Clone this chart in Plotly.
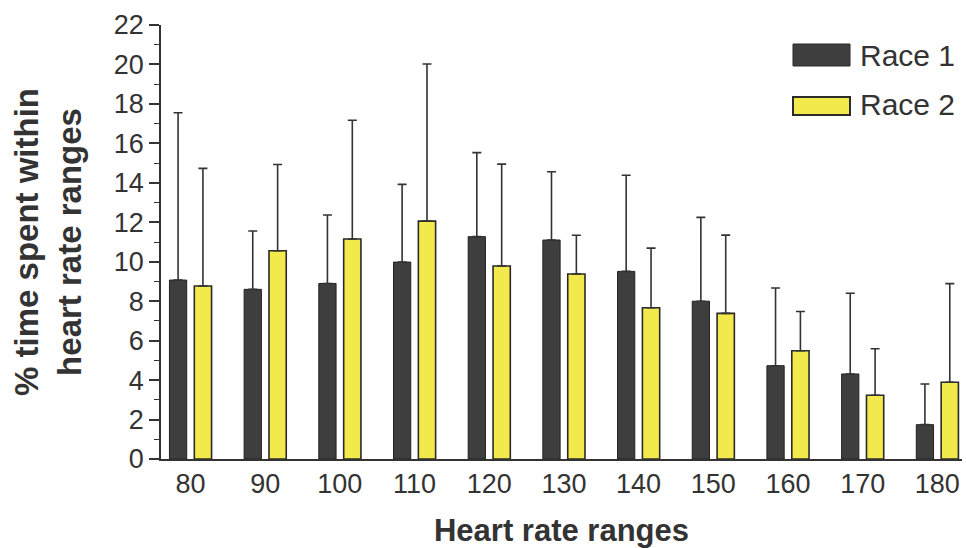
import plotly.graph_objects as go

categories = ["80", "90", "100", "110", "120", "130", "140", "150", "160", "170", "180"]
race1_mean = [9.07, 8.60, 8.90, 9.98, 11.27, 11.10, 9.51, 8.00, 4.73, 4.31, 1.74]
race1_sd_top = [17.55, 11.56, 12.37, 13.92, 15.53, 14.56, 14.38, 12.25, 8.67, 8.40, 3.80]
race2_mean = [8.77, 10.56, 11.15, 12.06, 9.78, 9.38, 7.67, 7.38, 5.49, 3.23, 3.89]
race2_sd_top = [14.73, 14.93, 17.17, 20.02, 14.95, 11.34, 10.69, 11.35, 7.48, 5.59, 8.89]
y_ticks = [0, 2, 4, 6, 8, 10, 12, 14, 16, 18, 20, 22]
series_names = ["Race 1", "Race 2"]

race1_err = [t - m for t, m in zip(race1_sd_top, race1_mean)]
race2_err = [t - m for t, m in zip(race2_sd_top, race2_mean)]

TXT = "#333333"
FONT = "Liberation Sans, Arial, sans-serif"

fig = go.Figure()
fig.add_trace(go.Bar(
    x=categories, y=race1_mean, name=series_names[0],
    marker=dict(color="#3e3e3e", line=dict(color="#222222", width=1)),
    error_y=dict(type="data", array=race1_err, arrayminus=[0] * len(race1_err),
                 symmetric=False, color="#333333", thickness=1.6, width=4.5),
    showlegend=False,
))
fig.add_trace(go.Bar(
    x=categories, y=race2_mean, name=series_names[1],
    marker=dict(color="#f2e94c", line=dict(color="#2a2a2a", width=1.6)),
    error_y=dict(type="data", array=race2_err, arrayminus=[0] * len(race2_err),
                 symmetric=False, color="#333333", thickness=1.6, width=4.5),
    showlegend=False,
))

# custom legend (paper coords)
L, R, T, B = 161, 962, 25, 459
def px(x):
    return (x - L) / (R - L)
def py(y):
    return (B - y) / (B - T)

shapes = [
    dict(type="rect", xref="paper", yref="paper", x0=px(793), x1=px(850), y0=py(66), y1=py(44),
         fillcolor="#3e3e3e", line=dict(color="#2a2a2a", width=1)),
    dict(type="rect", xref="paper", yref="paper", x0=px(793), x1=px(850), y0=py(115), y1=py(97),
         fillcolor="#f2e94c", line=dict(color="#2a2a2a", width=2)),
]
annotations = [
    dict(xref="paper", yref="paper", x=px(858), y=py(55), text=series_names[0], showarrow=False,
         xanchor="left", yanchor="middle", font=dict(family=FONT, size=30, color=TXT)),
    dict(xref="paper", yref="paper", x=px(858), y=py(105), text=series_names[1], showarrow=False,
         xanchor="left", yanchor="middle", font=dict(family=FONT, size=30, color=TXT)),
]

fig.update_layout(
    width=966, height=548,
    margin=dict(l=L, r=966 - R, t=T, b=548 - B),
    paper_bgcolor="white", plot_bgcolor="white",
    barmode="group", bargap=0.334, bargroupgap=0.306,
    shapes=shapes, annotations=annotations,
    font=dict(family=FONT, color=TXT),
)
fig.update_xaxes(
    type="category", range=[-0.395, 10.33],
    showline=True, linecolor="#333333", linewidth=1.5,
    ticks="", ticklabelstandoff=0,
    tickfont=dict(family=FONT, size=27, color=TXT),
    showgrid=False, zeroline=False,
    title=dict(text="<b>Heart rate ranges</b>", font=dict(family=FONT, size=31, color=TXT), standoff=24),
)
fig.update_yaxes(
    range=[0, 22], tickvals=y_ticks,
    showline=True, linecolor="#333333", linewidth=1.5,
    ticks="outside", ticklen=10, tickwidth=1.5, tickcolor="#333333",
    minor=dict(dtick=1, ticks="outside", ticklen=5, tickwidth=1.2, tickcolor="#333333"),
    tickfont=dict(family=FONT, size=27, color=TXT),
    showgrid=False, zeroline=False,
    title=dict(text="<b>% time spent within<br>heart rate ranges</b>",
               font=dict(family=FONT, size=33, color=TXT), standoff=22),
)

fig.write_html("out.html", config={"displayModeBar": False},
               post_script="document.body.style.margin='0';document.body.style.overflow='hidden';")
